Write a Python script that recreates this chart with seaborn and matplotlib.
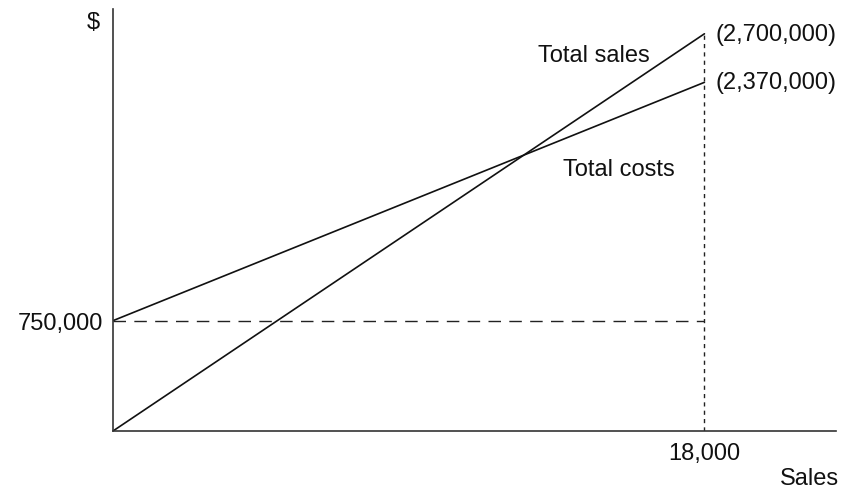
import matplotlib
matplotlib.use("Agg")
import matplotlib.pyplot as plt
import seaborn as sns
import pandas as pd

# Break-even chart data
units = [0, 18000]
total_sales = [0, 2700000]
total_costs = [750000, 2370000]
fixed_costs = 750000
max_units = 18000
sales_at_max = 2700000
costs_at_max = 2370000

sns.set_theme(style="white")
plt.rcParams["font.family"] = ["Liberation Sans", "DejaVu Sans"]

df = pd.DataFrame({
    "units": units * 2,
    "value": total_sales + total_costs,
    "series": ["Total sales"] * 2 + ["Total costs"] * 2,
})

fig = plt.figure(figsize=(8.46, 4.89), dpi=100)
ax = fig.add_axes([0.1336, 0.1166, 0.988 - 0.1336, 0.98 - 0.1166])

sns.lineplot(data=df, x="units", y="value", units="series", estimator=None,
             color="#111111", linewidth=1.2, legend=False, ax=ax)

# Fixed-cost level and output marker
ax.plot([0, max_units], [fixed_costs, fixed_costs], color="#222222",
        linewidth=1.0, dashes=(9, 6))
ax.plot([max_units, max_units], [0, sales_at_max], color="#222222",
        linewidth=1.0, dashes=(3, 3))

ax.set_xlim(0, 22000)
ax.set_ylim(0, 2870000)
for s in ["top", "right"]:
    ax.spines[s].set_visible(False)
for s in ["left", "bottom"]:
    ax.spines[s].set_color("#333333")
    ax.spines[s].set_linewidth(1.2)

fs = 17
ax.set_xticks([max_units])
ax.set_xticklabels(["18,000"], fontsize=fs)
ax.set_yticks([fixed_costs])
ax.set_yticklabels(["750,000"], fontsize=fs)
ax.tick_params(axis="x", length=0, pad=8, colors="#111111")
ax.tick_params(axis="y", length=0, pad=7, colors="#111111")
ax.set_xlabel("")
ax.set_ylabel("")

ax.text(-0.018, 0.995, "$", transform=ax.transAxes, fontsize=fs,
        ha="right", va="top", color="#111111")
ax.text(1.005, -0.085, "Sales", transform=ax.transAxes, fontsize=fs,
        ha="right", va="top", color="#111111")
ax.text(max_units + 330, sales_at_max, "(2,700,000)", fontsize=fs,
        ha="left", va="center", color="#111111")
ax.text(max_units + 330, costs_at_max, "(2,370,000)", fontsize=fs,
        ha="left", va="center", color="#111111")
ax.text(14650, 2557000, "Total sales", fontsize=fs, ha="center",
        va="center", color="#111111")
ax.text(15400, 1782000, "Total costs", fontsize=fs, ha="center",
        va="center", color="#111111")

fig.savefig("out.png", dpi=100)
